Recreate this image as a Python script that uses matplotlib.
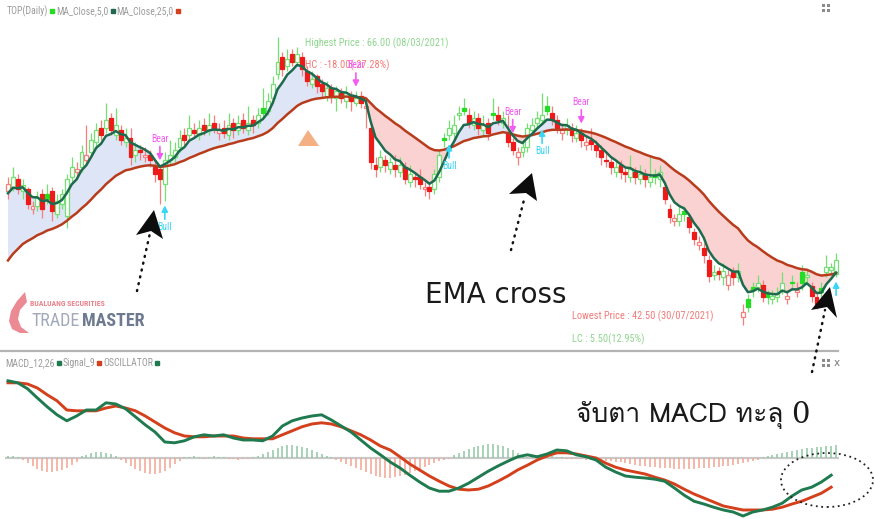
import numpy as np
import pandas as pd
import matplotlib
matplotlib.use('Agg')
import matplotlib.pyplot as plt
from matplotlib import font_manager
from matplotlib.patches import Polygon, Ellipse, Rectangle
from matplotlib.lines import Line2D
from fontTools.ttLib import TTFont

W, H = 874, 519

# ---- data -------------------------------------------------------------
# closes before the visible window, only used to warm up the averages
warmup_close = [40.6, 40.4, 40.8, 41.0, 40.6, 41.2, 41.0, 41.4, 41.8, 41.6,
                42.0, 42.4, 42.2, 42.8, 43.4, 44.0, 43.8, 44.6, 45.4, 46.2,
                46.0, 47.0, 48.0, 48.8, 49.6, 50.6, 52.4, 53.4, 54.0, 54.4]

opens = [53.4, 53.8, 54.4, 53.4, 53.6, 52.0, 52.2, 53.2, 53.2, 53.4,
         51.6, 52.4, 51.4, 54.6, 55.0, 55.4, 56.0, 56.6, 57.4, 58.6,
         58.6, 59.4, 58.0, 58.4, 57.4, 57.8, 56.4, 56.8, 56.2, 56.4,
         55.6, 55.2, 54.0, 56.0, 56.2, 57.0, 58.0, 58.0, 58.4, 58.0,
         58.8, 58.4, 59.0, 58.2, 58.6, 58.0, 59.0, 58.4, 59.2, 58.4,
         59.2, 59.0, 60.2, 60.0, 61.0, 63.0, 64.4, 63.6, 64.6, 64.0,
         64.4, 63.2, 62.2, 62.8, 62.2, 61.2, 61.8, 61.0, 61.4, 60.8,
         61.2, 60.6, 61.2, 60.2, 58.6, 55.6, 55.4, 56.0, 55.2, 55.6,
         55.0, 55.4, 54.2, 54.6, 54.6, 53.6, 53.8, 53.6, 54.6, 57.8,
         58.0, 58.2, 59.6, 60.2, 59.6, 58.8, 59.4, 58.4, 59.0, 59.8,
         59.6, 59.0, 58.2, 57.4, 56.2, 56.6, 57.0, 58.4, 59.0, 59.2,
         60.4, 59.8, 59.2, 58.2, 58.4, 58.6, 57.8, 58.2, 57.2, 57.6,
         57.2, 56.8, 56.0, 55.8, 55.0, 55.6, 55.0, 54.6, 55.0, 54.4,
         54.8, 54.2, 54.8, 54.4, 53.8, 52.0, 51.0, 51.0, 51.8, 51.3,
         50.1, 49.0, 48.8, 47.8, 46.6, 46.9, 46.4, 45.8, 46.8, 46.4,
         43.2, 44.6, 45.6, 45.6, 45.8, 45.1, 44.6, 44.8, 45.4, 44.6,
         46.0, 45.2, 46.8, 46.4, 45.7, 44.8, 45.5, 46.8, 47.0, 46.7]

highs = [54.6, 55.4, 54.8, 54.4, 53.8, 52.6, 53.4, 53.6, 54.0, 53.8,
         53.2, 53.6, 54.8, 56.2, 55.8, 57.2, 58.8, 58.2, 59.0, 59.2,
         60.6, 59.8, 60.2, 58.8, 58.6, 58.6, 57.4, 57.2, 57.0, 56.8,
         56.0, 55.6, 56.6, 57.6, 57.4, 58.4, 58.6, 59.6, 59.0, 59.2,
         59.4, 59.8, 59.6, 59.0, 59.2, 59.8, 59.4, 59.6, 59.8, 60.4,
         59.6, 60.2, 61.8, 61.4, 62.8, 66.0, 64.8, 65.0, 65.0, 65.2,
         64.8, 63.6, 63.2, 63.0, 62.6, 62.4, 62.2, 62.0, 61.8, 62.0,
         61.6, 61.6, 61.6, 61.0, 58.8, 56.2, 56.8, 56.4, 56.2, 56.4,
         56.2, 55.8, 55.6, 55.0, 55.2, 54.2, 54.2, 55.2, 56.8, 58.2,
         59.2, 59.6, 60.4, 61.0, 60.2, 60.0, 59.8, 59.6, 59.4, 61.0,
         60.4, 60.0, 59.6, 57.8, 57.0, 57.6, 59.0, 59.4, 60.0, 61.4,
         61.2, 60.4, 59.6, 59.0, 59.4, 59.0, 58.8, 58.6, 58.0, 58.6,
         57.6, 57.2, 56.6, 56.2, 56.0, 56.0, 55.4, 56.4, 55.4, 55.6,
         55.2, 56.2, 55.2, 55.6, 54.2, 52.4, 51.6, 52.2, 52.2, 51.6,
         50.4, 49.8, 49.2, 48.2, 47.4, 47.2, 47.6, 47.0, 47.2, 47.6,
         44.2, 45.0, 46.0, 46.6, 46.2, 45.4, 45.4, 45.6, 46.8, 45.4,
         46.6, 46.0, 47.4, 47.0, 46.0, 45.2, 46.0, 48.2, 47.6, 48.4]

lows = [52.8, 53.4, 53.2, 52.8, 52.0, 51.6, 51.8, 51.2, 52.4, 51.0,
        51.2, 52.0, 50.4, 54.2, 54.4, 55.0, 55.6, 56.2, 57.0, 57.6,
        58.2, 58.0, 57.6, 57.2, 57.0, 55.6, 55.8, 56.0, 55.8, 55.4,
        54.2, 52.4, 52.6, 55.6, 55.8, 56.6, 57.2, 57.6, 57.8, 57.6,
        58.0, 58.0, 58.2, 57.6, 57.8, 57.6, 57.8, 58.0, 58.2, 58.0,
        58.2, 58.6, 59.4, 59.6, 60.6, 62.6, 62.8, 63.2, 63.6, 63.6,
        62.8, 62.0, 61.8, 61.4, 61.0, 60.8, 60.6, 60.0, 60.6, 60.2,
        60.0, 60.4, 60.2, 58.6, 55.2, 54.6, 55.0, 55.0, 54.8, 54.6,
        54.6, 54.0, 53.8, 53.8, 53.6, 53.0, 52.8, 53.2, 54.2, 57.0,
        57.6, 57.8, 59.2, 59.6, 58.6, 58.4, 58.0, 58.0, 57.6, 59.2,
        58.8, 58.6, 57.0, 56.4, 55.6, 56.2, 56.6, 58.0, 58.6, 58.8,
        59.6, 58.8, 58.2, 57.6, 58.0, 57.4, 57.4, 57.0, 56.8, 56.8,
        56.2, 55.6, 55.4, 54.8, 54.6, 54.4, 54.2, 54.2, 54.0, 54.0,
        53.8, 53.8, 54.0, 53.8, 52.4, 50.8, 50.6, 50.6, 51.0, 50.0,
        49.0, 48.6, 47.6, 46.0, 46.2, 46.2, 45.8, 45.4, 45.8, 46.0,
        42.5, 43.6, 44.8, 45.2, 44.4, 44.2, 44.2, 44.4, 45.0, 44.2,
        45.4, 44.8, 45.4, 46.0, 44.4, 43.8, 44.8, 46.4, 46.6, 46.4]

closes = [54.0, 54.6, 53.6, 53.9, 52.4, 52.2, 52.9, 52.0, 52.8, 51.8,
          52.6, 53.2, 54.4, 55.4, 55.2, 56.6, 56.4, 57.6, 58.4, 58.0,
          59.2, 58.4, 58.8, 57.6, 57.8, 56.2, 56.8, 56.6, 56.4, 56.0,
          54.8, 54.4, 56.0, 56.4, 56.8, 57.8, 57.6, 58.6, 58.2, 58.6,
          58.4, 58.8, 58.6, 58.4, 58.2, 58.8, 58.4, 59.0, 58.6, 59.0,
          58.8, 59.6, 59.8, 60.8, 62.2, 64.0, 63.4, 64.2, 64.0, 64.6,
          63.4, 62.4, 62.6, 62.0, 61.6, 61.8, 61.2, 61.6, 61.0, 61.4,
          60.8, 61.0, 60.6, 60.4, 55.8, 55.2, 56.2, 55.6, 55.8, 55.2,
          55.6, 54.4, 54.8, 54.4, 54.0, 53.8, 53.4, 54.8, 56.4, 57.6,
          58.6, 58.8, 59.8, 60.0, 59.0, 59.4, 58.6, 58.8, 58.2, 59.6,
          59.2, 59.4, 57.4, 56.8, 56.6, 57.0, 58.6, 58.8, 59.4, 59.6,
          60.0, 59.2, 58.6, 58.4, 58.8, 58.0, 58.2, 57.6, 57.4, 57.3,
          56.8, 56.2, 55.9, 55.4, 55.4, 55.0, 54.8, 55.2, 54.6, 54.8,
          54.4, 54.6, 54.6, 55.0, 52.8, 51.3, 51.2, 51.6, 51.6, 50.5,
          49.5, 49.3, 48.2, 46.5, 46.8, 46.7, 46.9, 46.6, 46.4, 46.9,
          43.6, 44.0, 45.4, 45.9, 44.8, 44.8, 44.9, 45.0, 45.9, 44.9,
          45.9, 45.4, 45.9, 46.6, 44.9, 44.2, 45.2, 47.2, 47.2, 47.8]

bear_idx = [31, 71, 103, 117]
bull_idx = [32, 90, 109, 169]

# MACD panel, one reading every second session
macd_line = [1.93, 1.88, 1.73, 1.50, 1.28, 1.08, 0.93, 1.05, 1.20, 1.20,
             1.38, 1.35, 1.23, 1.03, 0.83, 0.65, 0.40, 0.38, 0.43, 0.53,
             0.58, 0.55, 0.58, 0.50, 0.45, 0.45, 0.43, 0.55, 0.80, 0.93,
             1.00, 1.05, 1.08, 0.95, 0.80, 0.65, 0.45, 0.25, 0.08, -0.10,
             -0.25, -0.43, -0.60, -0.75, -0.83, -0.83, -0.75, -0.63, -0.48, -0.33,
             -0.20, -0.08, 0.03, 0.08, 0.03, 0.10, 0.20, 0.18, 0.08, 0.03,
             -0.05, -0.23, -0.35, -0.45, -0.48, -0.50, -0.53, -0.58, -0.75, -0.93,
             -1.08, -1.15, -1.23, -1.30, -1.35, -1.45, -1.35, -1.30, -1.23, -1.13,
             -0.95, -0.80, -0.73, -0.60, -0.43]
signal_line = [1.88, 1.88, 1.85, 1.75, 1.58, 1.43, 1.20, 1.18, 1.18, 1.18,
               1.25, 1.30, 1.25, 1.18, 1.05, 0.90, 0.75, 0.63, 0.55, 0.53,
               0.53, 0.55, 0.55, 0.55, 0.50, 0.48, 0.48, 0.48, 0.58, 0.68,
               0.78, 0.85, 0.88, 0.85, 0.78, 0.68, 0.58, 0.45, 0.30, 0.20,
               0.03, -0.15, -0.30, -0.45, -0.58, -0.70, -0.78, -0.80, -0.78, -0.70,
               -0.58, -0.45, -0.30, -0.18, -0.05, 0.05, 0.13, 0.13, 0.10, 0.05,
               0.00, -0.13, -0.23, -0.30, -0.35, -0.40, -0.48, -0.55, -0.65, -0.78,
               -0.90, -1.00, -1.10, -1.20, -1.25, -1.30, -1.30, -1.30, -1.28, -1.23,
               -1.15, -1.08, -0.98, -0.88, -0.73]
oscillator = [0.02, 0.02, 0.01,
              -0.02, -0.05, -0.08, -0.11, -0.13, -0.14, -0.14, -0.13, -0.12, -0.10, -0.07, -0.04,
              0.02, 0.03, 0.05, 0.06, 0.06, 0.05, 0.04, 0.02,
              -0.02, -0.05, -0.08, -0.11, -0.13, -0.15, -0.16, -0.16, -0.15, -0.13, -0.10, -0.06, -0.03,
              0.01, 0.01, 0.02, 0.01, -0.01, 0.01, 0.02, 0.01, 0.01, -0.01, -0.01, -0.02, -0.01, -0.01,
              0.01, 0.02, 0.04, 0.06,
              0.08, 0.10, 0.12, 0.13, 0.13, 0.12, 0.11, 0.10, 0.08, 0.06, 0.04, 0.02, 0.01,
              -0.02, -0.04, -0.06, -0.08, -0.10, -0.12, -0.14, -0.16, -0.18, -0.19, -0.20, -0.20,
              -0.19, -0.18, -0.17, -0.15, -0.13, -0.11, -0.09, -0.07, -0.05, -0.03, -0.02, -0.01,
              0.03, 0.05, 0.07, 0.09, 0.11, 0.12, 0.13, 0.14, 0.14, 0.13, 0.12, 0.10, 0.08, 0.05, 0.03,
              0.01, 0.02, 0.03, 0.04, 0.03, 0.02, 0.01, 0.01, -0.01,
              -0.01, -0.01, -0.01, -0.02, -0.02, -0.02, -0.03, -0.03, -0.03, -0.04, -0.04, -0.05, -0.06, -0.07,
              -0.08, -0.08, -0.09, -0.09, -0.10, -0.10, -0.10, -0.11, -0.11, -0.11, -0.11, -0.11,
              -0.10, -0.10, -0.10, -0.09, -0.09, -0.08, -0.08,
              -0.07, -0.06, -0.05, -0.04, -0.03, -0.02,
              0.01, 0.02, 0.03, 0.04, 0.05, 0.06, 0.07, 0.08, 0.09, 0.10, 0.10, 0.11, 0.11, 0.12, 0.12, 0.13]

# ---- fonts ------------------------------------------------------------
installed = {f.name for f in font_manager.fontManager.ttflist}
NARROW = next((n for n in ('Liberation Sans Narrow', 'Roboto Condensed') if n in installed), 'Liberation Sans')


def thai_family():
    for f in font_manager.fontManager.ttflist:
        try:
            if 0x0E08 in TTFont(f.fname, fontNumber=0, lazy=True).getBestCmap():
                return f.name
        except Exception:
            pass
    return 'DejaVu Sans'


THAI = thai_family()


def fx(px):
    return px / W


def fy(py):
    return 1 - py / H


# ---- price panel ------------------------------------------------------
o = np.array(opens)
h = np.array(highs)
l = np.array(lows)
c = np.array(closes)
x = np.arange(len(c))

allc = pd.Series(warmup_close + closes)
ma5 = allc.ewm(span=5, adjust=False).mean().values[len(warmup_close):]
ma25 = allc.ewm(span=25, adjust=False).mean().values[len(warmup_close):]

fig = plt.figure(figsize=(W / 100, H / 100), dpi=100)
ax = fig.add_axes([0, 1 - 351 / H, 1, 351 / H])
ax.set_xlim(-8 / 4.9, (W - 8) / 4.9)
ax.set_ylim(66 - (351 - 37) / 12.26, 66 + 37 / 12.26)
ax.axis('off')

ax.fill_between(x, ma5, ma25, where=ma5 >= ma25, interpolate=True, color='#dde5f6', lw=0, zorder=1)
ax.fill_between(x, ma5, ma25, where=ma5 < ma25, interpolate=True, color='#fbd2d2', lw=0, zorder=1)

prev = np.r_[warmup_close[-1], c[:-1]]
up = c >= prev
hollow = c > o
solid = np.where(up, '#22dd22', '#ee1a1a')
light = np.where(up, '#74e074', '#f57f7f')
body = np.where(np.abs(c - o) < 0.05, 0.08, c - o)
ax.vlines(x, l, h, colors=light, lw=0.9, zorder=2)
ax.bar(x, body, bottom=o, width=0.8, color=np.where(hollow, 'white', solid),
       edgecolor=np.where(hollow, light, solid), linewidth=0.9, zorder=3)

ax.plot(x, ma25, color='#b83c1c', lw=1.8, zorder=4)
ax.plot(x, ma5, color='#1e6a4e', lw=1.8, zorder=5)

MAG = '#f25cf2'
CYAN = '#3ad6f6'
for i in bear_idx:
    ax.annotate('', xy=(i, h[i]), xytext=(0, 18), textcoords='offset pixels',
                arrowprops=dict(arrowstyle='-|>,head_length=0.35,head_width=0.18', color=MAG,
                                lw=1.2, shrinkA=0, shrinkB=3), zorder=6)
    ax.annotate('Bear', xy=(i, h[i]), xytext=(0, 21), textcoords='offset pixels', ha='center',
                va='bottom', color=MAG, fontsize=7, family=NARROW, zorder=6)
for i in bull_idx:
    ax.annotate('', xy=(i, l[i]), xytext=(0, -18), textcoords='offset pixels',
                arrowprops=dict(arrowstyle='-|>,head_length=0.35,head_width=0.18', color=CYAN,
                                lw=1.2, shrinkA=0, shrinkB=3), zorder=6)
    if i < len(c) - 1:
        ax.annotate('Bull', xy=(i, l[i]), xytext=(0, -21), textcoords='offset pixels', ha='center',
                    va='top', color=CYAN, fontsize=7, family=NARROW, zorder=6)

# ---- MACD panel -------------------------------------------------------
ax2 = fig.add_axes([0, 0, 1, 164 / H])
ax2.set_xlim(ax.get_xlim())
ax2.set_ylim(-0.61, 1.03)
ax2.axis('off')
osc = np.array(oscillator)
ax2.hlines(0, -0.6, len(c) - 0.4, color='#c9c9c9', lw=1.6, zorder=1)
ax2.vlines(x, 0, osc, colors=np.where(osc >= 0, '#8fc7a6', '#f3a493'), lw=1.1, zorder=2)

ax3 = ax2.twinx()
ax3.set_ylim(-1.525, 2.575)
ax3.axis('off')
xm = x[::2]
ax3.plot(xm, signal_line, color='#d3401b', lw=2.1, zorder=3)
ax3.plot(xm, macd_line, color='#1f7a50', lw=2.1, zorder=4)

# ---- frame texts and marks -------------------------------------------
fig.add_artist(Line2D([0, fx(838)], [fy(351), fy(351)], color='#b3b3b3', lw=1.6))

GRAY = '#9b9b9b'
renderer = fig.canvas.get_renderer()


def legend_row(x0, y, parts):
    xcur = x0
    for label, col in parts:
        t = fig.text(fx(xcur), fy(y), label, color=GRAY, fontsize=7, family=NARROW, va='center')
        end = t.get_window_extent(renderer=renderer).x1
        fig.add_artist(Line2D([fx(end + 4)], [fy(y)], marker='s', ms=2.8, color=col, lw=0))
        xcur = end + 8


legend_row(7, 11, [('TOP(Daily)', '#22dd22'), ('MA_Close,5,0', '#1e6a4e'),
                   ('MA_Close,25,0', '#d3401b')])
legend_row(5, 363, [('MACD_12,26', '#1f7a50'), ('Signal_9', '#d3401b'),
                    ('OSCILLATOR', '#1f7a50')])

for cx, cy in [(826, 8), (826, 363)]:
    for dx in (-2.5, 2.5):
        for dy in (-2.5, 2.5):
            fig.add_artist(Rectangle((fx(cx + dx - 1.2), fy(cy + dy + 1.2)), 2.4 / W, 2.4 / H,
                                     transform=fig.transFigure, color='#8a8a8a', lw=0))
fig.text(fx(834), fy(363), 'x', color='#777777', fontsize=7.5, va='center')

ax.text(fx(305), fy(43), 'Highest Price : 66.00 (08/03/2021)', transform=fig.transFigure,
        color='#8fd68f', fontsize=7.5, family=NARROW, va='center', zorder=3.5)
ax.text(fx(305), fy(65), 'HC : -18.00(-27.28%)', transform=fig.transFigure,
        color='#f27a7a', fontsize=7.5, family=NARROW, va='center', zorder=3.5)
fig.text(fx(572), fy(316), 'Lowest Price : 42.50 (30/07/2021)', color='#f27a7a', fontsize=7.5,
         family=NARROW, va='center')
fig.text(fx(572), fy(339), 'LC : 5.50(12.95%)', color='#8fd68f', fontsize=7.5, family=NARROW, va='center')

fig.add_artist(Polygon([(fx(308), fy(130)), (fx(298), fy(146)), (fx(319), fy(146))],
                       closed=True, transform=fig.transFigure, color='#f4b083', lw=0))

fig.text(fx(425), fy(295), 'EMA cross', color='#1a1a1a', fontsize=20, family='DejaVu Sans', va='center')
t = fig.text(fx(576), fy(415), 'จับตา MACD ทะลุ', color='#1a1a1a', fontsize=19,
             family=[THAI, 'DejaVu Sans'], va='center')
bb = t.get_window_extent(renderer=renderer)
fig.text((bb.x1 + 8) / W, fy(415), '0', color='#1a1a1a', fontsize=21, family='DejaVu Serif', va='center')

# black pointer arrows with dotted tails
heads = [[(154, 210), (163, 239), (151, 231), (136, 235)],
         [(532, 173), (537, 201), (526, 193), (509, 194)],
         [(830, 287), (837, 318), (827, 307), (811, 310)]]
tails = [[(137, 291), (150, 233)], [(511, 250), (525, 196)], [(812, 372), (825, 310)]]
for pts in heads:
    fig.add_artist(Polygon([(fx(a), fy(b)) for a, b in pts], closed=True,
                           transform=fig.transFigure, color='#0d0d0d', lw=0))
for (a1, b1), (a2, b2) in tails:
    fig.add_artist(Line2D([fx(a1), fx(a2)], [fy(b1), fy(b2)], color='#111111', lw=1.8,
                          ls=(0, (0.4, 2.4)), dash_capstyle='round'))

fig.add_artist(Ellipse((fx(827), fy(480)), 92 / W, 54 / H, transform=fig.transFigure,
                       fill=False, ec='#222222', lw=1.3, ls=(0, (1, 2))))

# logo
fig.add_artist(Polygon([(fx(a), fy(b)) for a, b in
                        [(25, 292), (17, 301), (11, 311), (9, 321), (12, 329), (20, 333), (29, 333),
                         (21, 327), (18, 319), (20, 310), (27, 302)]],
                       closed=True, transform=fig.transFigure, color='#ec8a93', lw=0))
fig.text(fx(30), fy(303), 'BUALUANG SECURITIES', color='#e9828c', fontsize=5.6,
         family=NARROW, weight='bold', va='center')
fig.text(fx(31), fy(321), 'TRADE', color='#a1a9ba', fontsize=13, family=NARROW, va='center')
fig.text(fx(82), fy(321), 'MASTER', color='#6e7a90', fontsize=13, family=NARROW,
         weight='bold', va='center')

fig.savefig('out.png', dpi=100)
